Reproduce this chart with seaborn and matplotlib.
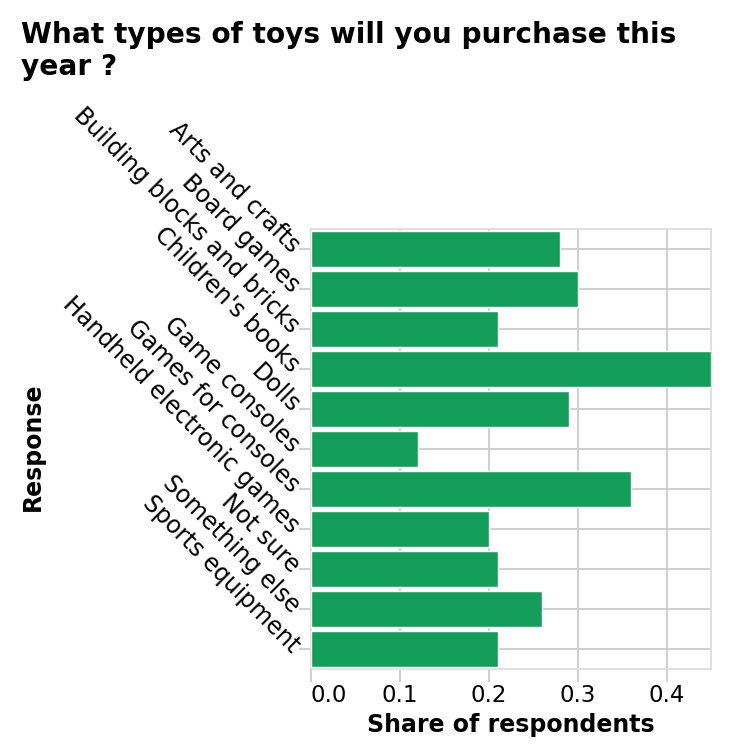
import pandas as pd
import seaborn as sns
import matplotlib.pyplot as plt

responses = ['Arts and crafts', 'Board games', 'Building blocks and bricks',
             "Children's books", 'Dolls', 'Game consoles', 'Games for consoles',
             'Handheld electronic games', 'Not sure', 'Something else',
             'Sports equipment']
shares = [0.28, 0.30, 0.21, 0.45, 0.29, 0.12, 0.36, 0.20, 0.21, 0.26, 0.21]
x_ticks = [0.0, 0.1, 0.2, 0.3, 0.4]

df = pd.DataFrame({'Response': responses, 'Share': shares})

sns.set_style('white')
plt.rcParams['font.family'] = ['DejaVu Sans']
plt.rcParams['text.color'] = 'black'
plt.rcParams['axes.labelcolor'] = 'black'
plt.rcParams['xtick.labelcolor'] = 'black'
plt.rcParams['ytick.labelcolor'] = 'black'

fig = plt.figure(figsize=(7.3, 7.54), dpi=100)
ax = fig.add_axes([311 / 730, 1 - 669 / 754, 400 / 730, 440 / 754])

sns.barplot(data=df, x='Share', y='Response', orient='h', color='#139f5a',
            saturation=1, width=0.9, ax=ax, zorder=3)

ax.set_xlim(0, 0.45)
ax.set_xticks(x_ticks)
ax.set_xticklabels([f'{t:.1f}' for t in x_ticks], fontsize=16.5)
ax.get_xticklabels()[0].set_horizontalalignment('left')
ax.set_yticks(range(len(responses)))
ax.set_yticklabels(responses, fontsize=17, rotation=-45, ha='right',
                   va='center', rotation_mode='anchor')

ax.grid(True, color='#cccccc', linewidth=1.3, zorder=0)
ax.set_axisbelow(True)
for s in ax.spines.values():
    s.set_color('#dddddd')
    s.set_linewidth(1.3)
ax.tick_params(axis='both', length=9, width=1.3, color='#cccccc', pad=2,
               left=True, bottom=True)

ax.set_xlabel('Share of respondents', fontsize=17, fontweight='bold', labelpad=4)
ax.set_ylabel('Response', fontsize=17, fontweight='bold')
ax.yaxis.set_label_coords(-266 / 400, 0.505)

fig.text(21 / 730, 1 - 21 / 754, 'What types of toys will you purchase this\nyear ?',
         fontsize=20.2, fontweight='bold', ha='left', va='top', linespacing=1.2)

fig.savefig('out.png', dpi=100)
